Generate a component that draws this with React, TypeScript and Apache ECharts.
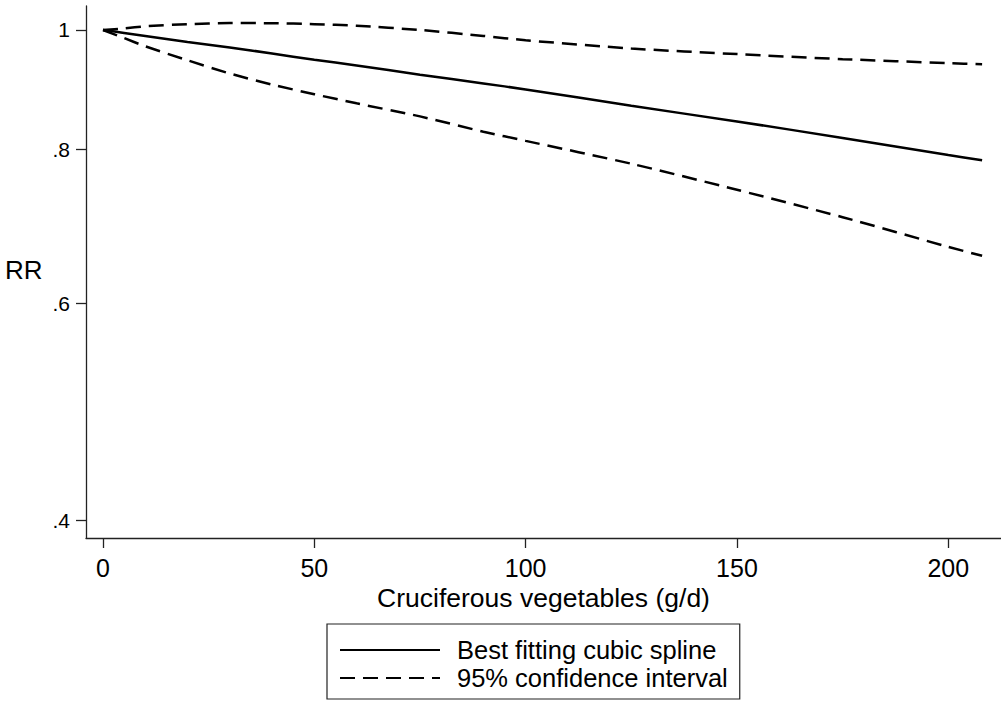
import React, { useEffect, useRef } from "react";
import * as echarts from "echarts";

// Data (x: g/d of cruciferous vegetables, y: relative risk)
const xValues = [0, 5, 10, 20, 30, 40, 50, 60, 75, 90, 100, 125, 150, 175, 200, 208];
const rrFit = [1, 0.9945, 0.989, 0.978, 0.968, 0.957, 0.946, 0.936, 0.92, 0.905, 0.895, 0.868, 0.843, 0.8175, 0.7918, 0.784];
const rrUpper = [1, 1.003, 1.007, 1.011, 1.013, 1.0128, 1.011, 1.008, 1.0, 0.989, 0.981, 0.966, 0.956, 0.947, 0.94, 0.938];
const rrLower = [1, 0.985, 0.97, 0.945, 0.922, 0.903, 0.887, 0.872, 0.851, 0.827, 0.813, 0.779, 0.742, 0.705, 0.667, 0.656];

const xTickValues = [0, 50, 100, 150, 200];
const yTickValues = [0.4, 0.6, 0.8, 1];
const yTickLabels = [".4", ".6", ".8", "1"];

const fitName = "Best fitting cubic spline";
const ciName = "95% confidence interval";
const xTitle = "Cruciferous vegetables (g/d)";
const yTitle = "RR";

const FONT = "'Liberation Sans', Arial, Helvetica, sans-serif";

export default function App() {
  const ref = useRef<HTMLDivElement>(null);

  useEffect(() => {
    if (!ref.current) return;
    const chart = echarts.init(ref.current, undefined, { renderer: "svg" });
    const toSeries = (arr: number[]) => xValues.map((x, i) => [x, Math.log(arr[i])]);
    const yTickLn = yTickValues.map((v) => Math.log(v));

    const axisColor = "#222";
    const dash = [15, 8];

    chart.setOption({
      animation: false,
      backgroundColor: "#fff",
      textStyle: { fontFamily: FONT },
      grid: { left: 86, top: 6, right: 0, bottom: 175, containLabel: false },
      xAxis: {
        type: "value",
        min: -4.022,
        max: 212.47,
        name: xTitle,
        nameLocation: "middle",
        nameGap: 46,
        nameMoveOverlap: false,
        nameTextStyle: { fontSize: 26.5, color: "#000", fontFamily: FONT },
        axisLine: { show: true, onZero: false, lineStyle: { color: axisColor, width: 1.3 } },
        axisTick: { show: true, inside: false, length: 10, customValues: xTickValues, lineStyle: { color: axisColor, width: 1.3 } },
        axisLabel: { customValues: xTickValues, fontSize: 25, color: "#000", margin: 17, fontFamily: FONT },
        splitLine: { show: false },
      },
      yAxis: {
        type: "value",
        min: -0.9486,
        max: 0.0448,
        axisLine: { show: true, onZero: false, lineStyle: { color: axisColor, width: 1.3 } },
        axisTick: { show: true, inside: false, length: 10, customValues: yTickLn, lineStyle: { color: axisColor, width: 1.3 } },
        axisLabel: {
          customValues: yTickLn,
          fontSize: 21,
          color: "#000",
          margin: 16,
          fontFamily: FONT,
          formatter: (v: number) => {
            const i = yTickLn.findIndex((t) => Math.abs(t - v) < 1e-6);
            return i >= 0 ? yTickLabels[i] : "";
          },
        },
        splitLine: { show: false },
      },
      legend: {
        orient: "vertical",
        left: 327,
        top: 624,
        data: [fitName, ciName],
        itemWidth: 100,
        itemHeight: 14,
        itemGap: 2,
        padding: [13, 12, 8, 12],
        borderColor: axisColor,
        borderWidth: 1.2,
        borderRadius: 0,
        itemStyle: { opacity: 0 },
        textStyle: { fontSize: 25.5, lineHeight: 26, color: "#000", fontFamily: FONT, padding: [0, 0, 0, 12] },
      },
      graphic: [
        {
          type: "text",
          left: 5,
          top: 257,
          style: { text: yTitle, fontSize: 26, fill: "#000", fontFamily: FONT },
        },
      ],
      series: [
        {
          name: fitName,
          type: "line",
          data: toSeries(rrFit),
          smooth: 0.25,
          symbol: "none",
          lineStyle: { color: "#000", width: 2.5, type: "solid" },
          itemStyle: { color: "#000" },
        },
        {
          name: ciName,
          type: "line",
          data: toSeries(rrUpper),
          smooth: 0.25,
          symbol: "none",
          lineStyle: { color: "#000", width: 2.5, type: dash },
          itemStyle: { color: "#000" },
        },
        {
          name: ciName,
          type: "line",
          data: toSeries(rrLower),
          smooth: 0.25,
          symbol: "none",
          lineStyle: { color: "#000", width: 2.5, type: dash },
          itemStyle: { color: "#000" },
        },
      ],
    });
    return () => chart.dispose();
  }, []);

  return (
    <div
      ref={ref}
      style={{ position: "fixed", left: 0, top: 0, width: 1001, height: 713, background: "#fff" }}
    />
  );
}
